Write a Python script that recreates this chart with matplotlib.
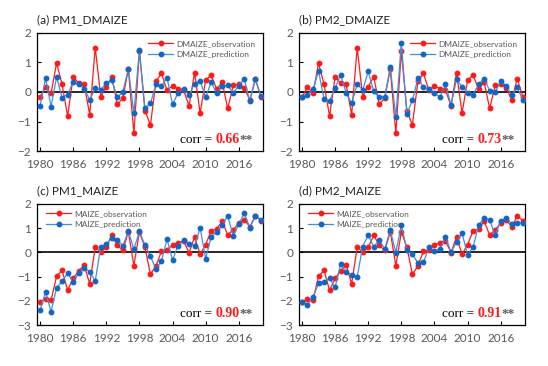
import numpy as np
import matplotlib.pyplot as plt
from matplotlib.offsetbox import TextArea, HPacker, AnchoredOffsetbox

years = np.arange(1980, 2021)

dmaize_obs = [-0.18, 0.15, -0.05, 0.97, 0.25, -0.82, 0.50, 0.30, 0.25, -0.77,
              1.49, -0.16, 0.18, 0.50, -0.42, -0.21, 0.77, -1.40, 1.38, -0.63,
              -1.12, 0.35, 0.63, 0.05, 0.20, 0.11, 0.06, -0.47, 0.65, -0.72,
              0.40, 0.56, 0.09, 0.33, -0.56, 0.22, 0.26, 0.14, -0.28, 0.44, -0.16]
dmaize_pm1 = [-0.48, 0.46, -0.50, 0.50, -0.20, -0.09, 0.34, 0.25, 0.11, -0.27,
              0.12, 0.07, 0.30, 0.39, -0.18, -0.01, 0.78, -0.72, 1.40, -0.55,
              -0.39, 0.25, 0.20, 0.48, -0.42, -0.04, 0.09, -0.11, 0.28, 0.38,
              -0.19, 0.33, -0.05, 0.19, 0.22, -0.04, 0.21, 0.43, -0.32, 0.42, -0.15]
dmaize_pm2 = [-0.17, -0.09, 0.08, 0.70, -0.24, -0.31, 0.13, 0.57, -0.03, -0.39,
              0.26, 0.06, 0.69, 0.02, -0.19, -0.16, 0.83, -0.85, 1.66, -0.75,
              -0.29, 0.46, 0.15, 0.11, -0.04, -0.18, 0.25, -0.44, 0.42, 0.17,
              -0.03, -0.10, 0.26, 0.45, 0.04, -0.02, 0.36, 0.20, -0.12, 0.15, -0.27]

maize_obs = [-2.07, -1.92, -1.97, -0.99, -0.75, -1.57, -1.07, -0.77, -0.53, -1.30,
             0.20, 0.02, 0.20, 0.70, 0.29, 0.08, 0.85, -0.55, 0.84, 0.21,
             -0.90, -0.57, 0.05, 0.10, 0.30, 0.40, 0.46, -0.01, 0.63, -0.08,
             0.32, 0.88, 0.97, 1.28, 0.72, 0.93, 1.20, 1.35, 1.05, 1.50, 1.31]
maize_pm1 = [-2.40, -1.63, -2.45, -1.47, -1.20, -0.86, -1.24, -0.86, -0.66, -0.80,
             -1.19, 0.24, 0.33, 0.60, 0.52, 0.27, 0.86, 0.13, 0.86, 0.30,
             -0.17, -0.68, -0.37, 0.55, -0.32, 0.28, 0.50, 0.35, 0.27, 1.01,
             -0.27, 0.64, 0.84, 1.14, 1.50, 0.69, 1.15, 1.62, 1.02, 1.50, 1.35]
maize_pm2 = [-2.05, -2.17, -1.85, -1.28, -1.24, -1.07, -1.44, -0.50, -0.80, -0.93,
             -1.02, 0.24, 0.71, 0.23, 0.50, 0.14, 0.91, -0.01, 1.12, 0.10,
             -0.08, -0.44, -0.42, 0.20, 0.07, 0.12, 0.65, 0.00, 0.42, 0.79,
             -0.10, 0.22, 1.12, 1.42, 1.34, 0.70, 1.30, 1.42, 1.18, 1.20, 1.22]

titles = ["(a) PM1_DMAIZE", "(b) PM2_DMAIZE", "(c) PM1_MAIZE", "(d) PM2_MAIZE"]
corrs = ["0.66", "0.73", "0.90", "0.91"]
xticks = [1980, 1986, 1992, 1998, 2004, 2010, 2016]

plt.rcParams['font.family'] = ['Lato', 'DejaVu Sans']

red = '#ff1a1a'
blue_line = '#3d8fe0'
blue_mk = '#1466c4'
gray = '#595959'

fig = plt.figure(figsize=(5.48, 3.66), dpi=100)
pos = [[0.067, 0.587, 0.413, 0.324], [0.545, 0.587, 0.413, 0.324],
       [0.067, 0.112, 0.413, 0.331], [0.545, 0.112, 0.413, 0.331]]

panels = [(dmaize_obs, dmaize_pm1, "DMAIZE", (-2, 2)),
          (dmaize_obs, dmaize_pm2, "DMAIZE", (-2, 2)),
          (maize_obs, maize_pm1, "MAIZE", (-3, 2)),
          (maize_obs, maize_pm2, "MAIZE", (-3, 2))]

for i, (obs, pred, name, ylim) in enumerate(panels):
    ax = fig.add_axes(pos[i])
    ax.axhline(0, color='black', lw=1.2, zorder=1)
    ax.plot(years, obs, '-o', color=red, lw=0.9, ms=3.2, mfc=red, mec=red,
            label=name + "_observation", zorder=3)
    ax.plot(years, pred, '-o', color=blue_line, lw=0.9, ms=3.2, mfc=blue_mk,
            mec=blue_mk, label=name + "_prediction", zorder=4)
    ax.set_xlim(1979.4, 2020.4)
    ax.set_ylim(*ylim)
    ax.set_yticks(range(ylim[0], ylim[1] + 1))
    ax.set_xticks(xticks)
    ax.tick_params(direction='in', length=3, width=0.8, labelsize=8.5,
                   labelcolor=gray)
    ax.tick_params(axis='x', pad=6)
    ax.tick_params(axis='y', pad=4)
    for s in ax.spines.values():
        s.set_linewidth(0.9)
    ax.text(0.0, 1.06, titles[i], transform=ax.transAxes, fontsize=8.5,
            color='#222222', ha='left', va='bottom')
    if i < 2:
        leg = ax.legend(loc='upper right', bbox_to_anchor=(0.99, 0.98),
                        frameon=False, fontsize=6, handlelength=3.0,
                        labelspacing=0.5, handletextpad=0.4, borderaxespad=0.2)
    else:
        leg = ax.legend(loc='upper left', bbox_to_anchor=(0.02, 0.99),
                        frameon=False, fontsize=6, handlelength=3.0,
                        labelspacing=0.5, handletextpad=0.4, borderaxespad=0.2)
    for t in leg.get_texts():
        t.set_color(gray)

    serif = ['Liberation Serif', 'DejaVu Serif']
    parts = [TextArea("corr = ", textprops=dict(family=serif, size=9.5, color='black')),
             TextArea(corrs[i], textprops=dict(family=serif, size=10, color=red,
                                               weight='bold')),
             TextArea("**", textprops=dict(family=serif, size=9.5, color=gray,
                                           weight='bold'))]
    box = HPacker(children=parts, align='baseline', pad=0, sep=0)
    anc = AnchoredOffsetbox(loc='lower right', child=box, frameon=False,
                            bbox_to_anchor=(0.955, 0.04),
                            bbox_transform=ax.transAxes, borderpad=0, pad=0)
    ax.add_artist(anc)

fig.savefig("out.png", dpi=100)
